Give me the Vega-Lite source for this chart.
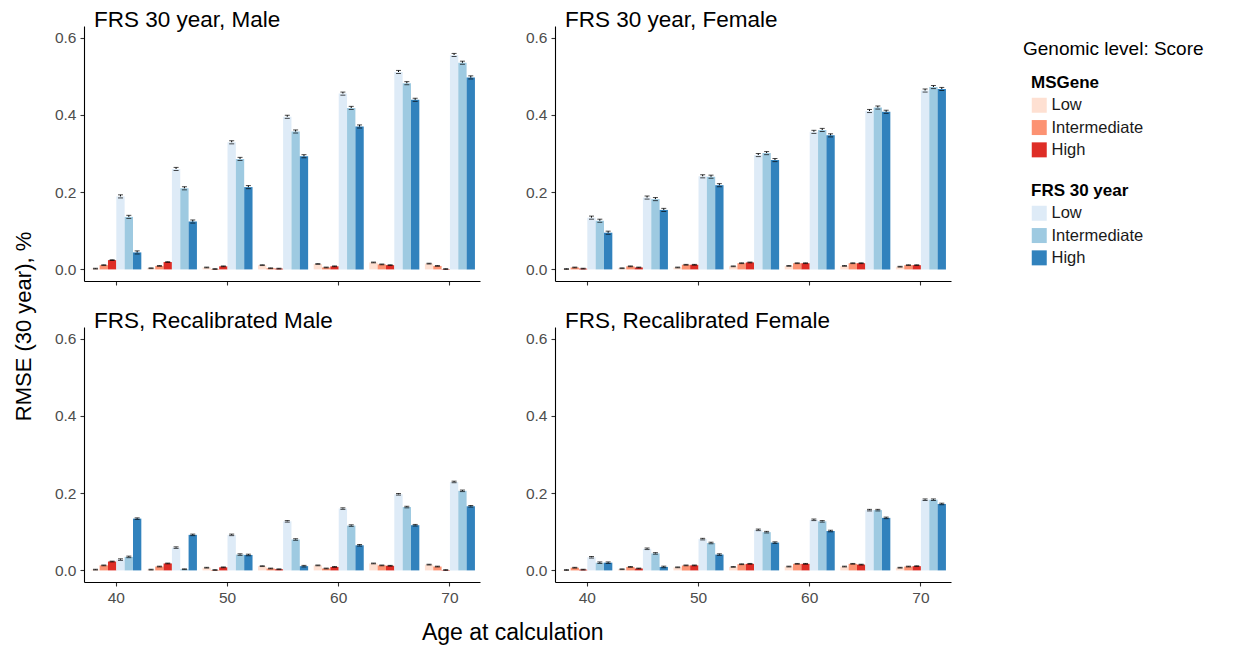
{
  "$schema": "https://vega.github.io/schema/vega-lite/v6.json",
  "padding": {"left": 13, "top": 8, "right": 5, "bottom": 5},
  "datasets": {
    "d": [
      {"p":"A","age":40,"s":"MSGene Low","m":"MSGene","v":0.002,"lo":0.001,"hi":0.003},
      {"p":"A","age":40,"s":"MSGene Intermediate","m":"MSGene","v":0.011,"lo":0.010,"hi":0.012},
      {"p":"A","age":40,"s":"MSGene High","m":"MSGene","v":0.024,"lo":0.023,"hi":0.025},
      {"p":"A","age":40,"s":"FRS Low","m":"FRS","v":0.189,"lo":0.185,"hi":0.193},
      {"p":"A","age":40,"s":"FRS Intermediate","m":"FRS","v":0.136,"lo":0.132,"hi":0.140},
      {"p":"A","age":40,"s":"FRS High","m":"FRS","v":0.044,"lo":0.040,"hi":0.048},
      {"p":"A","age":45,"s":"MSGene Low","m":"MSGene","v":0.003,"lo":0.002,"hi":0.004},
      {"p":"A","age":45,"s":"MSGene Intermediate","m":"MSGene","v":0.009,"lo":0.008,"hi":0.010},
      {"p":"A","age":45,"s":"MSGene High","m":"MSGene","v":0.019,"lo":0.018,"hi":0.020},
      {"p":"A","age":45,"s":"FRS Low","m":"FRS","v":0.260,"lo":0.256,"hi":0.264},
      {"p":"A","age":45,"s":"FRS Intermediate","m":"FRS","v":0.210,"lo":0.206,"hi":0.214},
      {"p":"A","age":45,"s":"FRS High","m":"FRS","v":0.124,"lo":0.120,"hi":0.128},
      {"p":"A","age":50,"s":"MSGene Low","m":"MSGene","v":0.005,"lo":0.004,"hi":0.006},
      {"p":"A","age":50,"s":"MSGene Intermediate","m":"MSGene","v":0.001,"lo":0.000,"hi":0.002},
      {"p":"A","age":50,"s":"MSGene High","m":"MSGene","v":0.008,"lo":0.007,"hi":0.009},
      {"p":"A","age":50,"s":"FRS Low","m":"FRS","v":0.329,"lo":0.325,"hi":0.333},
      {"p":"A","age":50,"s":"FRS Intermediate","m":"FRS","v":0.286,"lo":0.282,"hi":0.290},
      {"p":"A","age":50,"s":"FRS High","m":"FRS","v":0.213,"lo":0.209,"hi":0.217},
      {"p":"A","age":55,"s":"MSGene Low","m":"MSGene","v":0.011,"lo":0.010,"hi":0.012},
      {"p":"A","age":55,"s":"MSGene Intermediate","m":"MSGene","v":0.003,"lo":0.002,"hi":0.004},
      {"p":"A","age":55,"s":"MSGene High","m":"MSGene","v":0.002,"lo":0.001,"hi":0.003},
      {"p":"A","age":55,"s":"FRS Low","m":"FRS","v":0.395,"lo":0.391,"hi":0.399},
      {"p":"A","age":55,"s":"FRS Intermediate","m":"FRS","v":0.357,"lo":0.353,"hi":0.361},
      {"p":"A","age":55,"s":"FRS High","m":"FRS","v":0.293,"lo":0.289,"hi":0.297},
      {"p":"A","age":60,"s":"MSGene Low","m":"MSGene","v":0.014,"lo":0.013,"hi":0.015},
      {"p":"A","age":60,"s":"MSGene Intermediate","m":"MSGene","v":0.005,"lo":0.004,"hi":0.006},
      {"p":"A","age":60,"s":"MSGene High","m":"MSGene","v":0.008,"lo":0.007,"hi":0.009},
      {"p":"A","age":60,"s":"FRS Low","m":"FRS","v":0.455,"lo":0.451,"hi":0.459},
      {"p":"A","age":60,"s":"FRS Intermediate","m":"FRS","v":0.418,"lo":0.414,"hi":0.422},
      {"p":"A","age":60,"s":"FRS High","m":"FRS","v":0.370,"lo":0.366,"hi":0.374},
      {"p":"A","age":65,"s":"MSGene Low","m":"MSGene","v":0.018,"lo":0.017,"hi":0.019},
      {"p":"A","age":65,"s":"MSGene Intermediate","m":"MSGene","v":0.013,"lo":0.012,"hi":0.014},
      {"p":"A","age":65,"s":"MSGene High","m":"MSGene","v":0.011,"lo":0.010,"hi":0.012},
      {"p":"A","age":65,"s":"FRS Low","m":"FRS","v":0.511,"lo":0.507,"hi":0.515},
      {"p":"A","age":65,"s":"FRS Intermediate","m":"FRS","v":0.482,"lo":0.478,"hi":0.486},
      {"p":"A","age":65,"s":"FRS High","m":"FRS","v":0.439,"lo":0.435,"hi":0.443},
      {"p":"A","age":70,"s":"MSGene Low","m":"MSGene","v":0.015,"lo":0.014,"hi":0.016},
      {"p":"A","age":70,"s":"MSGene Intermediate","m":"MSGene","v":0.009,"lo":0.008,"hi":0.010},
      {"p":"A","age":70,"s":"MSGene High","m":"MSGene","v":0.001,"lo":0.000,"hi":0.002},
      {"p":"A","age":70,"s":"FRS Low","m":"FRS","v":0.555,"lo":0.551,"hi":0.559},
      {"p":"A","age":70,"s":"FRS Intermediate","m":"FRS","v":0.535,"lo":0.531,"hi":0.539},
      {"p":"A","age":70,"s":"FRS High","m":"FRS","v":0.497,"lo":0.493,"hi":0.501},

      {"p":"B","age":40,"s":"MSGene Low","m":"MSGene","v":0.001,"lo":0.000,"hi":0.002},
      {"p":"B","age":40,"s":"MSGene Intermediate","m":"MSGene","v":0.005,"lo":0.004,"hi":0.006},
      {"p":"B","age":40,"s":"MSGene High","m":"MSGene","v":0.002,"lo":0.001,"hi":0.003},
      {"p":"B","age":40,"s":"FRS Low","m":"FRS","v":0.134,"lo":0.130,"hi":0.138},
      {"p":"B","age":40,"s":"FRS Intermediate","m":"FRS","v":0.126,"lo":0.122,"hi":0.130},
      {"p":"B","age":40,"s":"FRS High","m":"FRS","v":0.095,"lo":0.091,"hi":0.099},
      {"p":"B","age":45,"s":"MSGene Low","m":"MSGene","v":0.003,"lo":0.002,"hi":0.004},
      {"p":"B","age":45,"s":"MSGene Intermediate","m":"MSGene","v":0.008,"lo":0.007,"hi":0.009},
      {"p":"B","age":45,"s":"MSGene High","m":"MSGene","v":0.005,"lo":0.004,"hi":0.006},
      {"p":"B","age":45,"s":"FRS Low","m":"FRS","v":0.186,"lo":0.182,"hi":0.190},
      {"p":"B","age":45,"s":"FRS Intermediate","m":"FRS","v":0.182,"lo":0.178,"hi":0.186},
      {"p":"B","age":45,"s":"FRS High","m":"FRS","v":0.154,"lo":0.150,"hi":0.158},
      {"p":"B","age":50,"s":"MSGene Low","m":"MSGene","v":0.005,"lo":0.004,"hi":0.006},
      {"p":"B","age":50,"s":"MSGene Intermediate","m":"MSGene","v":0.012,"lo":0.011,"hi":0.013},
      {"p":"B","age":50,"s":"MSGene High","m":"MSGene","v":0.012,"lo":0.011,"hi":0.013},
      {"p":"B","age":50,"s":"FRS Low","m":"FRS","v":0.241,"lo":0.237,"hi":0.245},
      {"p":"B","age":50,"s":"FRS Intermediate","m":"FRS","v":0.240,"lo":0.236,"hi":0.244},
      {"p":"B","age":50,"s":"FRS High","m":"FRS","v":0.218,"lo":0.214,"hi":0.222},
      {"p":"B","age":55,"s":"MSGene Low","m":"MSGene","v":0.008,"lo":0.007,"hi":0.009},
      {"p":"B","age":55,"s":"MSGene Intermediate","m":"MSGene","v":0.016,"lo":0.015,"hi":0.017},
      {"p":"B","age":55,"s":"MSGene High","m":"MSGene","v":0.018,"lo":0.017,"hi":0.019},
      {"p":"B","age":55,"s":"FRS Low","m":"FRS","v":0.296,"lo":0.292,"hi":0.300},
      {"p":"B","age":55,"s":"FRS Intermediate","m":"FRS","v":0.301,"lo":0.297,"hi":0.305},
      {"p":"B","age":55,"s":"FRS High","m":"FRS","v":0.283,"lo":0.279,"hi":0.287},
      {"p":"B","age":60,"s":"MSGene Low","m":"MSGene","v":0.009,"lo":0.008,"hi":0.010},
      {"p":"B","age":60,"s":"MSGene Intermediate","m":"MSGene","v":0.016,"lo":0.015,"hi":0.017},
      {"p":"B","age":60,"s":"MSGene High","m":"MSGene","v":0.016,"lo":0.015,"hi":0.017},
      {"p":"B","age":60,"s":"FRS Low","m":"FRS","v":0.356,"lo":0.352,"hi":0.360},
      {"p":"B","age":60,"s":"FRS Intermediate","m":"FRS","v":0.361,"lo":0.357,"hi":0.365},
      {"p":"B","age":60,"s":"FRS High","m":"FRS","v":0.347,"lo":0.343,"hi":0.351},
      {"p":"B","age":65,"s":"MSGene Low","m":"MSGene","v":0.009,"lo":0.008,"hi":0.010},
      {"p":"B","age":65,"s":"MSGene Intermediate","m":"MSGene","v":0.016,"lo":0.015,"hi":0.017},
      {"p":"B","age":65,"s":"MSGene High","m":"MSGene","v":0.016,"lo":0.015,"hi":0.017},
      {"p":"B","age":65,"s":"FRS Low","m":"FRS","v":0.410,"lo":0.406,"hi":0.414},
      {"p":"B","age":65,"s":"FRS Intermediate","m":"FRS","v":0.419,"lo":0.415,"hi":0.423},
      {"p":"B","age":65,"s":"FRS High","m":"FRS","v":0.408,"lo":0.404,"hi":0.412},
      {"p":"B","age":70,"s":"MSGene Low","m":"MSGene","v":0.007,"lo":0.006,"hi":0.008},
      {"p":"B","age":70,"s":"MSGene Intermediate","m":"MSGene","v":0.011,"lo":0.010,"hi":0.012},
      {"p":"B","age":70,"s":"MSGene High","m":"MSGene","v":0.011,"lo":0.010,"hi":0.012},
      {"p":"B","age":70,"s":"FRS Low","m":"FRS","v":0.463,"lo":0.459,"hi":0.467},
      {"p":"B","age":70,"s":"FRS Intermediate","m":"FRS","v":0.472,"lo":0.468,"hi":0.476},
      {"p":"B","age":70,"s":"FRS High","m":"FRS","v":0.467,"lo":0.463,"hi":0.471},

      {"p":"C","age":40,"s":"MSGene Low","m":"MSGene","v":0.002,"lo":0.001,"hi":0.003},
      {"p":"C","age":40,"s":"MSGene Intermediate","m":"MSGene","v":0.013,"lo":0.012,"hi":0.014},
      {"p":"C","age":40,"s":"MSGene High","m":"MSGene","v":0.023,"lo":0.022,"hi":0.024},
      {"p":"C","age":40,"s":"FRS Low","m":"FRS","v":0.028,"lo":0.026,"hi":0.030},
      {"p":"C","age":40,"s":"FRS Intermediate","m":"FRS","v":0.035,"lo":0.033,"hi":0.037},
      {"p":"C","age":40,"s":"FRS High","m":"FRS","v":0.134,"lo":0.132,"hi":0.136},
      {"p":"C","age":45,"s":"MSGene Low","m":"MSGene","v":0.002,"lo":0.001,"hi":0.003},
      {"p":"C","age":45,"s":"MSGene Intermediate","m":"MSGene","v":0.010,"lo":0.009,"hi":0.011},
      {"p":"C","age":45,"s":"MSGene High","m":"MSGene","v":0.018,"lo":0.017,"hi":0.019},
      {"p":"C","age":45,"s":"FRS Low","m":"FRS","v":0.059,"lo":0.057,"hi":0.061},
      {"p":"C","age":45,"s":"FRS Intermediate","m":"FRS","v":0.003,"lo":0.002,"hi":0.004},
      {"p":"C","age":45,"s":"FRS High","m":"FRS","v":0.092,"lo":0.090,"hi":0.094},
      {"p":"C","age":50,"s":"MSGene Low","m":"MSGene","v":0.007,"lo":0.006,"hi":0.008},
      {"p":"C","age":50,"s":"MSGene Intermediate","m":"MSGene","v":0.001,"lo":0.000,"hi":0.002},
      {"p":"C","age":50,"s":"MSGene High","m":"MSGene","v":0.008,"lo":0.007,"hi":0.009},
      {"p":"C","age":50,"s":"FRS Low","m":"FRS","v":0.092,"lo":0.090,"hi":0.094},
      {"p":"C","age":50,"s":"FRS Intermediate","m":"FRS","v":0.041,"lo":0.039,"hi":0.043},
      {"p":"C","age":50,"s":"FRS High","m":"FRS","v":0.040,"lo":0.038,"hi":0.042},
      {"p":"C","age":55,"s":"MSGene Low","m":"MSGene","v":0.011,"lo":0.010,"hi":0.012},
      {"p":"C","age":55,"s":"MSGene Intermediate","m":"MSGene","v":0.005,"lo":0.004,"hi":0.006},
      {"p":"C","age":55,"s":"MSGene High","m":"MSGene","v":0.003,"lo":0.002,"hi":0.004},
      {"p":"C","age":55,"s":"FRS Low","m":"FRS","v":0.127,"lo":0.125,"hi":0.129},
      {"p":"C","age":55,"s":"FRS Intermediate","m":"FRS","v":0.080,"lo":0.078,"hi":0.082},
      {"p":"C","age":55,"s":"FRS High","m":"FRS","v":0.011,"lo":0.009,"hi":0.013},
      {"p":"C","age":60,"s":"MSGene Low","m":"MSGene","v":0.013,"lo":0.012,"hi":0.014},
      {"p":"C","age":60,"s":"MSGene Intermediate","m":"MSGene","v":0.005,"lo":0.004,"hi":0.006},
      {"p":"C","age":60,"s":"MSGene High","m":"MSGene","v":0.009,"lo":0.008,"hi":0.010},
      {"p":"C","age":60,"s":"FRS Low","m":"FRS","v":0.160,"lo":0.158,"hi":0.162},
      {"p":"C","age":60,"s":"FRS Intermediate","m":"FRS","v":0.116,"lo":0.114,"hi":0.118},
      {"p":"C","age":60,"s":"FRS High","m":"FRS","v":0.065,"lo":0.063,"hi":0.067},
      {"p":"C","age":65,"s":"MSGene Low","m":"MSGene","v":0.018,"lo":0.017,"hi":0.019},
      {"p":"C","age":65,"s":"MSGene Intermediate","m":"MSGene","v":0.013,"lo":0.012,"hi":0.014},
      {"p":"C","age":65,"s":"MSGene High","m":"MSGene","v":0.012,"lo":0.011,"hi":0.013},
      {"p":"C","age":65,"s":"FRS Low","m":"FRS","v":0.197,"lo":0.195,"hi":0.199},
      {"p":"C","age":65,"s":"FRS Intermediate","m":"FRS","v":0.164,"lo":0.162,"hi":0.166},
      {"p":"C","age":65,"s":"FRS High","m":"FRS","v":0.117,"lo":0.115,"hi":0.119},
      {"p":"C","age":70,"s":"MSGene Low","m":"MSGene","v":0.015,"lo":0.014,"hi":0.016},
      {"p":"C","age":70,"s":"MSGene Intermediate","m":"MSGene","v":0.010,"lo":0.009,"hi":0.011},
      {"p":"C","age":70,"s":"MSGene High","m":"MSGene","v":0.001,"lo":0.000,"hi":0.002},
      {"p":"C","age":70,"s":"FRS Low","m":"FRS","v":0.229,"lo":0.227,"hi":0.231},
      {"p":"C","age":70,"s":"FRS Intermediate","m":"FRS","v":0.206,"lo":0.204,"hi":0.208},
      {"p":"C","age":70,"s":"FRS High","m":"FRS","v":0.166,"lo":0.164,"hi":0.168},

      {"p":"D","age":40,"s":"MSGene Low","m":"MSGene","v":0.001,"lo":0.000,"hi":0.002},
      {"p":"D","age":40,"s":"MSGene Intermediate","m":"MSGene","v":0.007,"lo":0.006,"hi":0.008},
      {"p":"D","age":40,"s":"MSGene High","m":"MSGene","v":0.002,"lo":0.001,"hi":0.003},
      {"p":"D","age":40,"s":"FRS Low","m":"FRS","v":0.034,"lo":0.032,"hi":0.036},
      {"p":"D","age":40,"s":"FRS Intermediate","m":"FRS","v":0.020,"lo":0.018,"hi":0.022},
      {"p":"D","age":40,"s":"FRS High","m":"FRS","v":0.020,"lo":0.018,"hi":0.022},
      {"p":"D","age":45,"s":"MSGene Low","m":"MSGene","v":0.003,"lo":0.002,"hi":0.004},
      {"p":"D","age":45,"s":"MSGene Intermediate","m":"MSGene","v":0.009,"lo":0.008,"hi":0.010},
      {"p":"D","age":45,"s":"MSGene High","m":"MSGene","v":0.005,"lo":0.004,"hi":0.006},
      {"p":"D","age":45,"s":"FRS Low","m":"FRS","v":0.056,"lo":0.054,"hi":0.058},
      {"p":"D","age":45,"s":"FRS Intermediate","m":"FRS","v":0.044,"lo":0.042,"hi":0.046},
      {"p":"D","age":45,"s":"FRS High","m":"FRS","v":0.009,"lo":0.007,"hi":0.011},
      {"p":"D","age":50,"s":"MSGene Low","m":"MSGene","v":0.008,"lo":0.007,"hi":0.009},
      {"p":"D","age":50,"s":"MSGene Intermediate","m":"MSGene","v":0.013,"lo":0.012,"hi":0.014},
      {"p":"D","age":50,"s":"MSGene High","m":"MSGene","v":0.013,"lo":0.012,"hi":0.014},
      {"p":"D","age":50,"s":"FRS Low","m":"FRS","v":0.081,"lo":0.079,"hi":0.083},
      {"p":"D","age":50,"s":"FRS Intermediate","m":"FRS","v":0.071,"lo":0.069,"hi":0.073},
      {"p":"D","age":50,"s":"FRS High","m":"FRS","v":0.041,"lo":0.039,"hi":0.043},
      {"p":"D","age":55,"s":"MSGene Low","m":"MSGene","v":0.009,"lo":0.008,"hi":0.010},
      {"p":"D","age":55,"s":"MSGene Intermediate","m":"MSGene","v":0.016,"lo":0.015,"hi":0.017},
      {"p":"D","age":55,"s":"MSGene High","m":"MSGene","v":0.017,"lo":0.016,"hi":0.018},
      {"p":"D","age":55,"s":"FRS Low","m":"FRS","v":0.105,"lo":0.103,"hi":0.107},
      {"p":"D","age":55,"s":"FRS Intermediate","m":"FRS","v":0.099,"lo":0.097,"hi":0.101},
      {"p":"D","age":55,"s":"FRS High","m":"FRS","v":0.072,"lo":0.070,"hi":0.074},
      {"p":"D","age":60,"s":"MSGene Low","m":"MSGene","v":0.010,"lo":0.009,"hi":0.011},
      {"p":"D","age":60,"s":"MSGene Intermediate","m":"MSGene","v":0.017,"lo":0.016,"hi":0.018},
      {"p":"D","age":60,"s":"MSGene High","m":"MSGene","v":0.017,"lo":0.016,"hi":0.018},
      {"p":"D","age":60,"s":"FRS Low","m":"FRS","v":0.131,"lo":0.129,"hi":0.133},
      {"p":"D","age":60,"s":"FRS Intermediate","m":"FRS","v":0.127,"lo":0.125,"hi":0.129},
      {"p":"D","age":60,"s":"FRS High","m":"FRS","v":0.102,"lo":0.100,"hi":0.104},
      {"p":"D","age":65,"s":"MSGene Low","m":"MSGene","v":0.010,"lo":0.009,"hi":0.011},
      {"p":"D","age":65,"s":"MSGene Intermediate","m":"MSGene","v":0.017,"lo":0.016,"hi":0.018},
      {"p":"D","age":65,"s":"MSGene High","m":"MSGene","v":0.015,"lo":0.014,"hi":0.016},
      {"p":"D","age":65,"s":"FRS Low","m":"FRS","v":0.156,"lo":0.154,"hi":0.158},
      {"p":"D","age":65,"s":"FRS Intermediate","m":"FRS","v":0.156,"lo":0.154,"hi":0.158},
      {"p":"D","age":65,"s":"FRS High","m":"FRS","v":0.136,"lo":0.134,"hi":0.138},
      {"p":"D","age":70,"s":"MSGene Low","m":"MSGene","v":0.007,"lo":0.006,"hi":0.008},
      {"p":"D","age":70,"s":"MSGene Intermediate","m":"MSGene","v":0.010,"lo":0.009,"hi":0.011},
      {"p":"D","age":70,"s":"MSGene High","m":"MSGene","v":0.011,"lo":0.010,"hi":0.012},
      {"p":"D","age":70,"s":"FRS Low","m":"FRS","v":0.183,"lo":0.181,"hi":0.185},
      {"p":"D","age":70,"s":"FRS Intermediate","m":"FRS","v":0.183,"lo":0.181,"hi":0.185},
      {"p":"D","age":70,"s":"FRS High","m":"FRS","v":0.172,"lo":0.170,"hi":0.174}
    ]
  },
  "title": {"text": "RMSE (30 year), %", "orient": "left", "anchor": "middle", "fontSize": 22, "fontWeight": "normal", "font": "Liberation Sans", "color": "black", "offset": 18},
  "spacing": 23,
  "vconcat": [
    {
      "spacing": 45,
      "hconcat": [
        {
          "width": 396, "height": 255,
          "title": {"text": "FRS 30 year, Male", "anchor": "start", "frame": "group", "orient": "top", "offset": -23, "dx": 10, "fontSize": 22.5, "fontWeight": "normal", "font": "Liberation Sans", "color": "black", "baseline": "alphabetic"},
          "data": {"name": "d"},
          "transform": [{"filter": "datum.p == 'A'"}],
          "encoding": {
            "x": {"field": "age", "type": "ordinal", "title": null, "scale": {"paddingInner": 0.1, "paddingOuter": 0.111, "align": 0.59}, "axis": {"values": [40, 50, 60, 70], "labels": false, "labelAngle": 0}},
            "xOffset": {"field": "s", "type": "nominal", "scale": {"domain": ["MSGene Low", "MSGene Intermediate", "MSGene High", "FRS Low", "FRS Intermediate", "FRS High"], "paddingInner": 0, "paddingOuter": 0}}
          },
          "layer": [
            {"mark": {"type": "rule", "color": "black", "strokeWidth": 1},
             "encoding": {
               "y": {"field": "lo", "type": "quantitative", "title": null, "scale": {"domain": [-0.03, 0.63], "nice": false, "zero": false}, "axis": {"values": [0, 0.2, 0.4, 0.6], "format": ".1f"}},
               "y2": {"field": "hi"},
               "opacity": {"field": "p", "type": "nominal", "scale": {"range": [1, 1]}, "legend": {"title": ["", "Genomic level: Score"], "titleLineHeight": 14, "titleLimit": 400, "values": [], "titleFontSize": 19, "titleFontWeight": "normal", "padding": 0}}
             }},
            {"transform": [{"filter": "datum.m == 'MSGene'"}], "mark": "bar",
             "encoding": {
               "y": {"field": "v", "type": "quantitative", "title": null},
               "y2": {"datum": 0},
               "color": {"field": "s", "type": "nominal", "scale": {"domain": ["MSGene Low", "MSGene Intermediate", "MSGene High"], "range": ["#fee0d2", "#fc9272", "#de2d26"]}, "legend": {"title": "MSGene", "padding": 8, "labelExpr": "slice(datum.label, indexof(datum.label, ' ') + 1)"}}
             }},
            {"transform": [{"filter": "datum.m == 'FRS'"}], "mark": "bar",
             "encoding": {
               "y": {"field": "v", "type": "quantitative", "title": null},
               "y2": {"datum": 0},
               "fill": {"field": "s", "type": "nominal", "scale": {"domain": ["FRS Low", "FRS Intermediate", "FRS High"], "range": ["#deebf7", "#9ecae1", "#3182bd"]}, "legend": {"title": "FRS 30 year", "padding": 8, "labelExpr": "slice(datum.label, indexof(datum.label, ' ') + 1)"}}
             }},
            {"mark": {"type": "tick", "size": 5, "thickness": 1, "color": "black"}, "encoding": {"y": {"field": "lo", "type": "quantitative", "title": null}}},
            {"mark": {"type": "tick", "size": 5, "thickness": 1, "color": "black"}, "encoding": {"y": {"field": "hi", "type": "quantitative", "title": null}}}
          ]
        },
        {
          "width": 396, "height": 255,
          "title": {"text": "FRS 30 year, Female", "anchor": "start", "frame": "group", "orient": "top", "offset": -23, "dx": 10, "fontSize": 22.5, "fontWeight": "normal", "font": "Liberation Sans", "color": "black", "baseline": "alphabetic"},
          "data": {"name": "d"},
          "transform": [{"filter": "datum.p == 'B'"}],
          "encoding": {
            "x": {"field": "age", "type": "ordinal", "title": null, "scale": {"paddingInner": 0.1, "paddingOuter": 0.111, "align": 0.59}, "axis": {"values": [40, 50, 60, 70], "labels": false, "labelAngle": 0}},
            "xOffset": {"field": "s", "type": "nominal", "scale": {"domain": ["MSGene Low", "MSGene Intermediate", "MSGene High", "FRS Low", "FRS Intermediate", "FRS High"], "paddingInner": 0, "paddingOuter": 0}}
          },
          "layer": [
            {"mark": {"type": "rule", "color": "black", "strokeWidth": 1},
             "encoding": {
               "y": {"field": "lo", "type": "quantitative", "title": null, "scale": {"domain": [-0.03, 0.63], "nice": false, "zero": false}, "axis": {"values": [0, 0.2, 0.4, 0.6], "format": ".1f"}},
               "y2": {"field": "hi"}
             }},
            {"transform": [{"filter": "datum.m == 'MSGene'"}], "mark": "bar",
             "encoding": {
               "y": {"field": "v", "type": "quantitative", "title": null},
               "y2": {"datum": 0},
               "color": {"field": "s", "type": "nominal", "scale": {"domain": ["MSGene Low", "MSGene Intermediate", "MSGene High"], "range": ["#fee0d2", "#fc9272", "#de2d26"]}, "legend": {"title": "MSGene", "padding": 8, "labelExpr": "slice(datum.label, indexof(datum.label, ' ') + 1)"}}
             }},
            {"transform": [{"filter": "datum.m == 'FRS'"}], "mark": "bar",
             "encoding": {
               "y": {"field": "v", "type": "quantitative", "title": null},
               "y2": {"datum": 0},
               "fill": {"field": "s", "type": "nominal", "scale": {"domain": ["FRS Low", "FRS Intermediate", "FRS High"], "range": ["#deebf7", "#9ecae1", "#3182bd"]}, "legend": {"title": "FRS 30 year", "padding": 8, "labelExpr": "slice(datum.label, indexof(datum.label, ' ') + 1)"}}
             }},
            {"mark": {"type": "tick", "size": 5, "thickness": 1, "color": "black"}, "encoding": {"y": {"field": "lo", "type": "quantitative", "title": null}}},
            {"mark": {"type": "tick", "size": 5, "thickness": 1, "color": "black"}, "encoding": {"y": {"field": "hi", "type": "quantitative", "title": null}}}
          ]
        }
      ]
    },
    {
      "spacing": 45,
      "title": {"text": "Age at calculation", "orient": "bottom", "anchor": "middle", "fontSize": 23, "fontWeight": "normal", "font": "Liberation Sans", "color": "black", "offset": 16, "dx": 10},
      "hconcat": [
        {
          "width": 396, "height": 255,
          "title": {"text": "FRS, Recalibrated Male", "anchor": "start", "frame": "group", "orient": "top", "offset": -23, "dx": 10, "fontSize": 22.5, "fontWeight": "normal", "font": "Liberation Sans", "color": "black", "baseline": "alphabetic"},
          "data": {"name": "d"},
          "transform": [{"filter": "datum.p == 'C'"}],
          "encoding": {
            "x": {"field": "age", "type": "ordinal", "title": null, "scale": {"paddingInner": 0.1, "paddingOuter": 0.111, "align": 0.59}, "axis": {"values": [40, 50, 60, 70], "labelAngle": 0}},
            "xOffset": {"field": "s", "type": "nominal", "scale": {"domain": ["MSGene Low", "MSGene Intermediate", "MSGene High", "FRS Low", "FRS Intermediate", "FRS High"], "paddingInner": 0, "paddingOuter": 0}}
          },
          "layer": [
            {"mark": {"type": "rule", "color": "black", "strokeWidth": 1},
             "encoding": {
               "y": {"field": "lo", "type": "quantitative", "title": null, "scale": {"domain": [-0.03, 0.63], "nice": false, "zero": false}, "axis": {"values": [0, 0.2, 0.4, 0.6], "format": ".1f"}},
               "y2": {"field": "hi"}
             }},
            {"transform": [{"filter": "datum.m == 'MSGene'"}], "mark": "bar",
             "encoding": {
               "y": {"field": "v", "type": "quantitative", "title": null},
               "y2": {"datum": 0},
               "color": {"field": "s", "type": "nominal", "scale": {"domain": ["MSGene Low", "MSGene Intermediate", "MSGene High"], "range": ["#fee0d2", "#fc9272", "#de2d26"]}, "legend": {"title": "MSGene", "padding": 8, "labelExpr": "slice(datum.label, indexof(datum.label, ' ') + 1)"}}
             }},
            {"transform": [{"filter": "datum.m == 'FRS'"}], "mark": "bar",
             "encoding": {
               "y": {"field": "v", "type": "quantitative", "title": null},
               "y2": {"datum": 0},
               "fill": {"field": "s", "type": "nominal", "scale": {"domain": ["FRS Low", "FRS Intermediate", "FRS High"], "range": ["#deebf7", "#9ecae1", "#3182bd"]}, "legend": {"title": "FRS 30 year", "padding": 8, "labelExpr": "slice(datum.label, indexof(datum.label, ' ') + 1)"}}
             }},
            {"mark": {"type": "tick", "size": 5, "thickness": 1, "color": "black"}, "encoding": {"y": {"field": "lo", "type": "quantitative", "title": null}}},
            {"mark": {"type": "tick", "size": 5, "thickness": 1, "color": "black"}, "encoding": {"y": {"field": "hi", "type": "quantitative", "title": null}}}
          ]
        },
        {
          "width": 396, "height": 255,
          "title": {"text": "FRS, Recalibrated Female", "anchor": "start", "frame": "group", "orient": "top", "offset": -23, "dx": 10, "fontSize": 22.5, "fontWeight": "normal", "font": "Liberation Sans", "color": "black", "baseline": "alphabetic"},
          "data": {"name": "d"},
          "transform": [{"filter": "datum.p == 'D'"}],
          "encoding": {
            "x": {"field": "age", "type": "ordinal", "title": null, "scale": {"paddingInner": 0.1, "paddingOuter": 0.111, "align": 0.59}, "axis": {"values": [40, 50, 60, 70], "labelAngle": 0}},
            "xOffset": {"field": "s", "type": "nominal", "scale": {"domain": ["MSGene Low", "MSGene Intermediate", "MSGene High", "FRS Low", "FRS Intermediate", "FRS High"], "paddingInner": 0, "paddingOuter": 0}}
          },
          "layer": [
            {"mark": {"type": "rule", "color": "black", "strokeWidth": 1},
             "encoding": {
               "y": {"field": "lo", "type": "quantitative", "title": null, "scale": {"domain": [-0.03, 0.63], "nice": false, "zero": false}, "axis": {"values": [0, 0.2, 0.4, 0.6], "format": ".1f"}},
               "y2": {"field": "hi"}
             }},
            {"transform": [{"filter": "datum.m == 'MSGene'"}], "mark": "bar",
             "encoding": {
               "y": {"field": "v", "type": "quantitative", "title": null},
               "y2": {"datum": 0},
               "color": {"field": "s", "type": "nominal", "scale": {"domain": ["MSGene Low", "MSGene Intermediate", "MSGene High"], "range": ["#fee0d2", "#fc9272", "#de2d26"]}, "legend": {"title": "MSGene", "padding": 8, "labelExpr": "slice(datum.label, indexof(datum.label, ' ') + 1)"}}
             }},
            {"transform": [{"filter": "datum.m == 'FRS'"}], "mark": "bar",
             "encoding": {
               "y": {"field": "v", "type": "quantitative", "title": null},
               "y2": {"datum": 0},
               "fill": {"field": "s", "type": "nominal", "scale": {"domain": ["FRS Low", "FRS Intermediate", "FRS High"], "range": ["#deebf7", "#9ecae1", "#3182bd"]}, "legend": {"title": "FRS 30 year", "padding": 8, "labelExpr": "slice(datum.label, indexof(datum.label, ' ') + 1)"}}
             }},
            {"mark": {"type": "tick", "size": 5, "thickness": 1, "color": "black"}, "encoding": {"y": {"field": "lo", "type": "quantitative", "title": null}}},
            {"mark": {"type": "tick", "size": 5, "thickness": 1, "color": "black"}, "encoding": {"y": {"field": "hi", "type": "quantitative", "title": null}}}
          ]
        }
      ]
    }
  ],
  "config": {
    "font": "Liberation Sans",
    "view": {"stroke": null},
    "axis": {"grid": false, "domainColor": "black", "domainWidth": 1.1, "tickColor": "#333333", "tickSize": 4, "tickWidth": 1.1, "labelColor": "#4d4d4d", "labelFontSize": 15.5, "labelPadding": 4, "labelFont": "Liberation Sans"},
    "legend": {"symbolType": "square", "symbolSize": 225, "symbolStrokeWidth": 0, "labelFontSize": 16.5, "labelColor": "#1a1a1a", "labelFont": "Liberation Sans", "titleFont": "Liberation Sans", "titleFontSize": 17, "titleColor": "black", "titleFontWeight": "bold", "rowPadding": 5.3, "titlePadding": 5, "offset": 72}
  }
}
